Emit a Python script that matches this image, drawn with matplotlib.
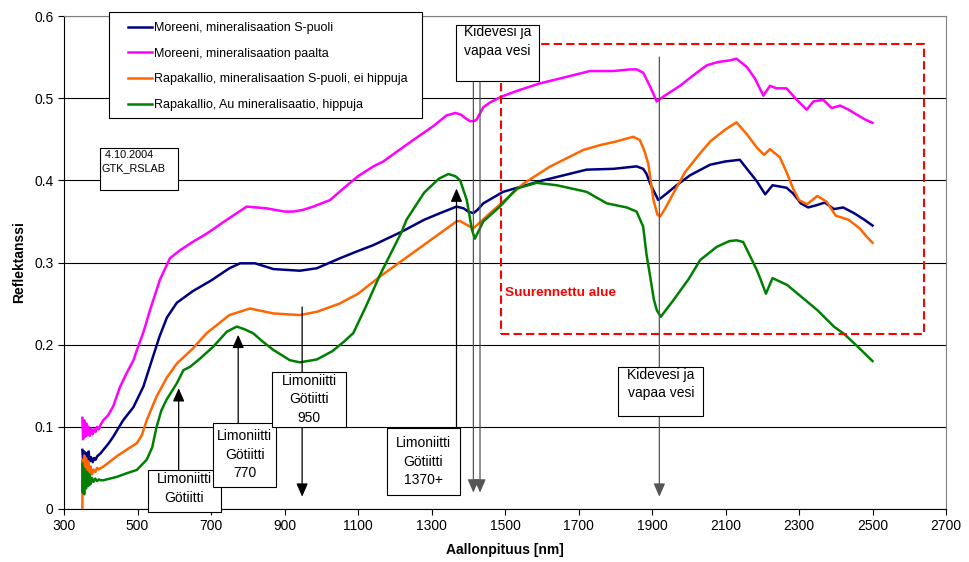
import matplotlib
matplotlib.use("Agg")
import matplotlib.pyplot as plt
from matplotlib.patches import Rectangle

plt.rcParams['font.family'] = ['Liberation Sans', 'DejaVu Sans']

# series labels
labels = ["Moreeni, mineralisaation S-puoli",
          "Moreeni, mineralisaation paalta",
          "Rapakallio, mineralisaation S-puoli, ei hippuja",
          "Rapakallio, Au mineralisaatio, hippuja"]
colors = ['#000080', '#FF00FF', '#FF6600', '#008000']

# Moreeni, mineralisaation S-puoli
wl_navy = [350, 352, 355, 358, 361, 364, 367, 370, 374, 378, 382, 386, 390, 395, 400, 407,
           420, 434, 461, 489, 516, 539, 560, 580, 607, 650, 700, 750, 779, 820, 870, 942,
           988, 1050, 1100, 1141, 1219, 1280, 1323, 1368, 1387, 1400, 1414, 1425, 1441,
           1495, 1595, 1722, 1795, 1858, 1876, 1885, 1895, 1917, 1940, 1967, 2003, 2058,
           2100, 2139, 2160, 2185, 2208, 2228, 2266, 2284, 2305, 2325, 2350, 2370, 2395,
           2420, 2450, 2478, 2500]
r_navy = [0.072, 0.058, 0.070, 0.056, 0.068, 0.060, 0.070, 0.058, 0.063, 0.057, 0.062,
          0.060, 0.064, 0.066, 0.068, 0.072, 0.079, 0.088, 0.108, 0.124, 0.149, 0.181,
          0.210, 0.233, 0.251, 0.265, 0.278, 0.293, 0.299, 0.299, 0.292, 0.290, 0.293,
          0.305, 0.314, 0.321, 0.3375, 0.352, 0.360, 0.368, 0.366, 0.362, 0.360, 0.364,
          0.372, 0.386, 0.399, 0.413, 0.414, 0.417, 0.414, 0.408, 0.396, 0.376, 0.384,
          0.394, 0.406, 0.419, 0.423, 0.425, 0.413, 0.399, 0.383, 0.394, 0.391, 0.384,
          0.372, 0.367, 0.370, 0.373, 0.365, 0.367, 0.360, 0.352, 0.345]

# Moreeni, mineralisaation paalta
wl_mag = [350, 352, 355, 358, 361, 364, 367, 370, 374, 378, 382, 386, 390, 395, 400, 407,
          420, 434, 452, 470, 489, 498, 516, 534, 561, 588, 616, 650, 688, 743, 797, 850,
          900, 924, 950, 978, 1024, 1060, 1100, 1142, 1169, 1200, 1250, 1305, 1341, 1365,
          1380, 1391, 1405, 1415, 1423, 1441, 1460, 1491, 1540, 1595, 1650, 1731, 1795,
          1840, 1858, 1876, 1895, 1913, 1931, 1976, 2010, 2049, 2080, 2112, 2130, 2158,
          2180, 2203, 2221, 2239, 2266, 2294, 2321, 2339, 2366, 2389, 2412, 2435, 2457,
          2480, 2500]
r_mag = [0.111, 0.085, 0.108, 0.088, 0.104, 0.090, 0.100, 0.089, 0.098, 0.091, 0.097,
         0.094, 0.100, 0.097, 0.103, 0.108, 0.114, 0.125, 0.148, 0.165, 0.181, 0.193,
         0.215, 0.242, 0.279, 0.305, 0.315, 0.325, 0.335, 0.352, 0.368, 0.366, 0.362,
         0.362, 0.364, 0.368, 0.376, 0.390, 0.405, 0.417, 0.423, 0.433, 0.449, 0.466,
         0.479, 0.482, 0.480, 0.476, 0.472, 0.472, 0.474, 0.489, 0.495, 0.502, 0.510,
         0.518, 0.524, 0.533, 0.533, 0.535, 0.535, 0.531, 0.514, 0.496, 0.502, 0.515,
         0.527, 0.540, 0.544, 0.546, 0.548, 0.538, 0.524, 0.503, 0.515, 0.512, 0.512,
         0.498, 0.486, 0.496, 0.498, 0.488, 0.491, 0.486, 0.480, 0.474, 0.470]

# Rapakallio, mineralisaation S-puoli, ei hippuja
wl_ora = [350, 351, 353, 355, 357, 360, 363, 366, 369, 372, 376, 380, 385, 390, 395, 400,
          407, 420, 443, 470, 498, 512, 525, 552, 580, 607, 650, 688, 750, 806, 870, 942,
          988, 1050, 1100, 1160, 1250, 1323, 1368, 1378, 1395, 1414, 1435, 1459, 1495,
          1550, 1622, 1713, 1760, 1800, 1849, 1867, 1880, 1890, 1904, 1915, 1922, 1935,
          1958, 1990, 2031, 2060, 2100, 2130, 2160, 2185, 2205, 2221, 2248, 2266, 2284,
          2300, 2322, 2350, 2375, 2400, 2435, 2465, 2485, 2500]
r_ora = [0.000, 0.060, 0.020, 0.065, 0.035, 0.062, 0.030, 0.058, 0.040, 0.052, 0.042,
         0.048, 0.045, 0.050, 0.048, 0.050, 0.0515, 0.056, 0.064, 0.072, 0.080, 0.090,
         0.108, 0.137, 0.160, 0.177, 0.195, 0.214, 0.236, 0.244, 0.238, 0.236, 0.240,
         0.250, 0.262, 0.283, 0.312, 0.3355, 0.350, 0.3505, 0.346, 0.3416, 0.350, 0.360,
         0.374, 0.396, 0.4166, 0.437, 0.443, 0.447, 0.453, 0.449, 0.435, 0.420, 0.376,
         0.358, 0.356, 0.365, 0.384, 0.410, 0.433, 0.448, 0.462, 0.4706, 0.455, 0.440,
         0.431, 0.438, 0.428, 0.410, 0.390, 0.376, 0.371, 0.381, 0.374, 0.357, 0.352,
         0.3416, 0.331, 0.324]

# Rapakallio, Au mineralisaatio, hippuja
wl_grn = [350, 351, 353, 355, 357, 360, 363, 366, 369, 372, 376, 380, 385, 390, 395, 400,
          407, 443, 470, 498, 525, 540, 552, 565, 579, 607, 625, 643, 670, 706, 743, 770,
          790, 815, 840, 870, 915, 942, 988, 1030, 1060, 1087, 1120, 1160, 1219, 1232,
          1280, 1320, 1346, 1365, 1378, 1396, 1410, 1418, 1430, 1441, 1486, 1532, 1586,
          1641, 1722, 1777, 1831, 1858, 1876, 1885, 1895, 1905, 1913, 1924, 1958, 2000,
          2031, 2076, 2110, 2130, 2148, 2170, 2185, 2195, 2210, 2228, 2268, 2295, 2350,
          2395, 2423, 2460, 2500]
r_grn = [0.055, 0.020, 0.050, 0.018, 0.048, 0.025, 0.045, 0.028, 0.042, 0.030, 0.038,
         0.033, 0.037, 0.034, 0.036, 0.035, 0.035, 0.039, 0.0434, 0.0475, 0.060, 0.075,
         0.100, 0.120, 0.133, 0.153, 0.169, 0.173, 0.183, 0.1975, 0.2158, 0.222, 0.219,
         0.2138, 0.204, 0.1935, 0.181, 0.1785, 0.182, 0.192, 0.203, 0.214, 0.245, 0.285,
         0.3375, 0.352, 0.385, 0.402, 0.4077, 0.405, 0.400, 0.376, 0.340, 0.329, 0.340,
         0.350, 0.368, 0.390, 0.397, 0.394, 0.386, 0.372, 0.367, 0.362, 0.3436, 0.310,
         0.283, 0.255, 0.242, 0.234, 0.254, 0.280, 0.303, 0.319, 0.326, 0.327, 0.325,
         0.305, 0.291, 0.280, 0.262, 0.281, 0.2726, 0.2625, 0.242, 0.222, 0.213, 0.1975,
         0.180]

xticks = list(range(300, 2701, 200))
yticks = [0, 0.1, 0.2, 0.3, 0.4, 0.5, 0.6]
ytick_labels = ['0', '0.1', '0.2', '0.3', '0.4', '0.5', '0.6']

fig = plt.figure(figsize=(9.69, 5.62), dpi=100)
ax = fig.add_axes([64/969, 53/562, 882/969, 493/562])

series = [(wl_navy, r_navy), (wl_mag, r_mag), (wl_ora, r_ora), (wl_grn, r_grn)]
for (x, y), c, lab in zip(series, colors, labels):
    ax.plot(x, y, color=c, lw=1.8, label=lab, zorder=3)

ax.set_xlim(300, 2700)
ax.set_ylim(0, 0.6)
ax.set_xticks(xticks)
ax.set_yticks(yticks)
ax.set_yticklabels(ytick_labels)
ax.tick_params(labelsize=10, direction='out', length=4)
ax.yaxis.grid(True, color='black', lw=0.8)
ax.set_axisbelow(True)
for s in ['top', 'right']:
    ax.spines[s].set_color('#808080')
ax.set_xlabel('Aallonpituus [nm]', fontsize=10, fontweight='bold', labelpad=7)
ax.set_ylabel('Reflektanssi', fontsize=10, fontweight='bold', labelpad=6)

# legend with its own frame
ax.add_patch(Rectangle((0.051, 0.793), 0.355, 0.215, transform=ax.transAxes,
                       fc='white', ec='black', lw=0.8, clip_on=False, zorder=9))
leg = ax.legend(loc='upper left', bbox_to_anchor=(0.0726, 0.988), fontsize=9,
                frameon=False, labelspacing=1.1, handlelength=1.9,
                handletextpad=0.2, borderpad=0, borderaxespad=0)
leg.set_zorder(10)

# zoomed region
ax.add_patch(Rectangle((1490, 0.2135), 1150, 0.352, fill=False, ec='red', lw=1.5,
                       ls=(0, (4, 2)), zorder=4))
ax.text(1500, 0.2625, 'Suurennettu alue', color='red', fontsize=9.7,
        fontweight='bold', va='center', ha='left', zorder=5)

arrow = dict(arrowstyle='-|>,head_length=0.8,head_width=0.35', color='black', lw=0.9,
             mutation_scale=10, shrinkA=0, shrinkB=0)
arrow_g = dict(arrow, color='#555555')

# annotation arrows (head, tail)
ax.annotate('', xy=(612, 0.147), xytext=(612, 0.047), arrowprops=arrow, zorder=5)
ax.annotate('', xy=(774, 0.212), xytext=(774, 0.105), arrowprops=arrow, zorder=5)
ax.annotate('', xy=(948, 0.015), xytext=(948, 0.246), arrowprops=arrow, zorder=5)
ax.annotate('', xy=(1368, 0.39), xytext=(1368, 0.099), arrowprops=arrow, zorder=5)
ax.annotate('', xy=(1414, 0.02), xytext=(1414, 0.521), arrowprops=arrow_g, zorder=5)
ax.annotate('', xy=(1432, 0.02), xytext=(1432, 0.521), arrowprops=arrow_g, zorder=5)
ax.annotate('', xy=(1920, 0.015), xytext=(1920, 0.55), arrowprops=arrow_g, zorder=5)

# text boxes: (x0, x1, y0, y1), text position, text
boxes = [((528, 727, -0.004, 0.0475), (627, 0.025), 'Limoniitti\nGötiitti'),
         ((706, 877, 0.027, 0.105), (792, 0.066), 'Limoniitti\nGötiitti\n770'),
         ((866, 1067, 0.0998, 0.1667), (967, 0.1333), 'Limoniitti\nGötiitti\n950'),
         ((1178, 1378, 0.017, 0.0986), (1278, 0.0578), 'Limoniitti\nGötiitti\n1370+'),
         ((1367, 1592, 0.521, 0.589), (1480, 0.569), 'Kidevesi ja\nvapaa vesi'),
         ((1808, 2040, 0.1135, 0.1732), (1924, 0.152), 'Kidevesi ja\nvapaa vesi')]
for (x0, x1, y0, y1), (tx, ty), txt in boxes:
    ax.add_patch(Rectangle((x0, y0), x1 - x0, y1 - y0, fc='white', ec='black', lw=0.8,
                           clip_on=False, zorder=8))
    ax.text(tx, ty, txt, ha='center', va='center', fontsize=10, linespacing=1.4, zorder=9)

ax.add_patch(Rectangle((398, 0.3882), 212, 0.0511, fc='white', ec='black', lw=0.8,
                       zorder=8))
ax.text(403, 0.4227, ' 4.10.2004\nGTK_RSLAB', ha='left', va='center', fontsize=7.8,
        linespacing=1.3, zorder=9)

fig.savefig('out.png', dpi=100)
